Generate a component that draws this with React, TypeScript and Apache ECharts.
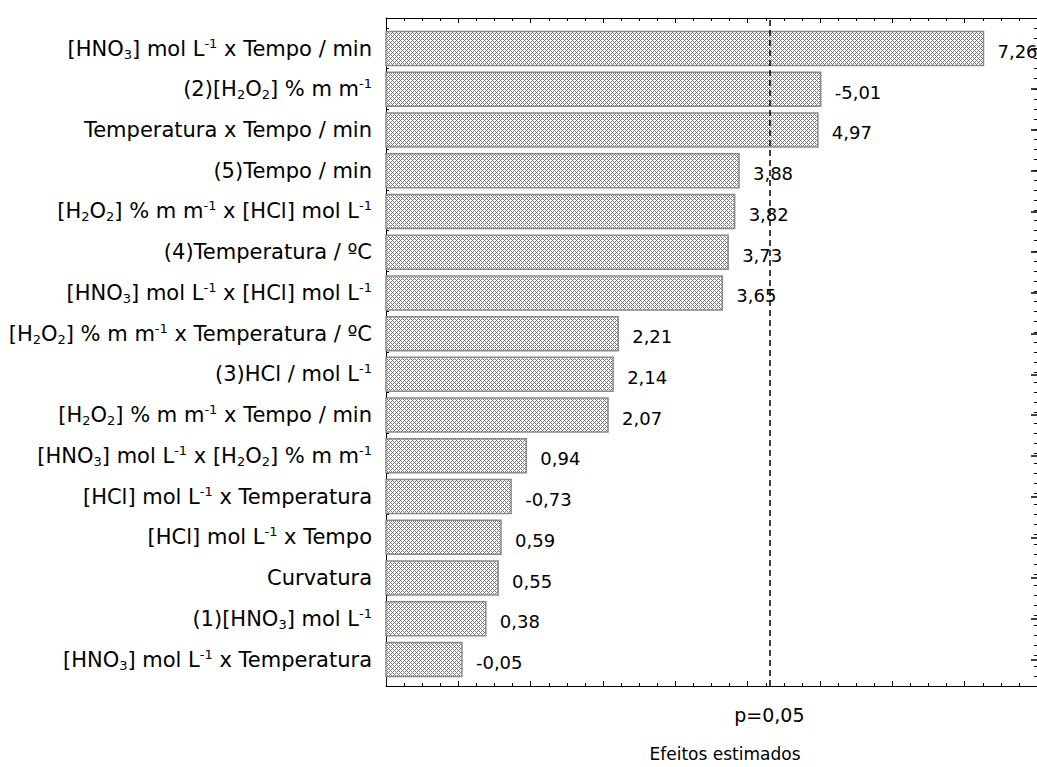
import React, { useEffect, useRef } from "react";
import * as echarts from "echarts";

// ---- data ----
const categories: string[] = [
  "[HNO{sub|3}] mol L{sup|-1} x Tempo / min",
  "(2)[H{sub|2}O{sub|2}] % m m{sup|-1}",
  "Temperatura x Tempo / min",
  "(5)Tempo / min",
  "[H{sub|2}O{sub|2}] % m m{sup|-1} x [HCl] mol L{sup|-1}",
  "(4)Temperatura / ºC",
  "[HNO{sub|3}] mol L{sup|-1} x [HCl] mol L{sup|-1}",
  "[H{sub|2}O{sub|2}] % m m{sup|-1} x Temperatura / ºC",
  "(3)HCl / mol L{sup|-1}",
  "[H{sub|2}O{sub|2}] % m m{sup|-1} x Tempo / min",
  "[HNO{sub|3}] mol L{sup|-1} x [H{sub|2}O{sub|2}] % m m{sup|-1}",
  "[HCl] mol L{sup|-1} x Temperatura",
  "[HCl] mol L{sup|-1} x Tempo",
  "Curvatura",
  "(1)[HNO{sub|3}] mol L{sup|-1}",
  "[HNO{sub|3}] mol L{sup|-1} x Temperatura",
];
const effects: number[] = [
  7.26, -5.01, 4.97, 3.88, 3.82, 3.73, 3.65, 2.21, 2.14, 2.07, 0.94, -0.73, 0.59,
  0.55, 0.38, -0.05,
];
const pLimit = 4.303;
const pLabel = "p=0,05";
const xTitle = "Efeitos estimados";
const xMin = -1;
const xMax = 8;

const FONT = "DejaVu Sans";

function fmt(v: number): string {
  return v.toFixed(2).replace(".", ",");
}

function makeHatch(): HTMLCanvasElement {
  const c = document.createElement("canvas");
  c.width = 4;
  c.height = 4;
  const ctx = c.getContext("2d")!;
  ctx.fillStyle = "#ffffff";
  ctx.fillRect(0, 0, 4, 4);
  ctx.fillStyle = "#7a7a7a";
  for (let y = 0; y < 4; y++) {
    for (let x = 0; x < 4; x++) {
      if ((x + y) % 4 === 0 || (x - y + 4) % 4 === 0) ctx.fillRect(x, y, 1, 1);
    }
  }
  return c;
}

export default function App() {
  const ref = useRef<HTMLDivElement>(null);

  useEffect(() => {
    if (!ref.current) return;
    const chart = echarts.init(ref.current, null, { renderer: "svg" });
    const hatch = makeHatch();
    const pattern: any = {
      image: hatch,
      repeat: "repeat",
      imageWidth: 4,
      imageHeight: 4,
    };

    const frameX = (pos: "top" | "bottom", withName: boolean) => ({
      gridIndex: 0,
      type: "value",
      position: pos,
      min: xMin,
      max: xMax,
      interval: 1,
      axisLine: { show: true, onZero: false, lineStyle: { color: "#000", width: 1 } },
      axisTick: { show: true, inside: true, length: 5, lineStyle: { color: "#000" } },
      minorTick: { show: true, splitNumber: 4, length: 3, lineStyle: { color: "#000" } },
      axisLabel: { show: false },
      splitLine: { show: false },
      minorSplitLine: { show: false },
      ...(withName
        ? {
            name: xTitle,
            nameLocation: "middle",
            nameGap: 59,
            nameTextStyle: {
              color: "#000",
              fontFamily: FONT,
              fontSize: 17,
              padding: [0, 0, 0, 27],
            },
          }
        : {}),
    });

    const frameY = (pos: "left" | "right") => ({
      gridIndex: 0,
      type: "value",
      position: pos,
      min: -0.75,
      max: 15.75,
      interval: 0.25,
      axisLine: { show: true, onZero: false, lineStyle: { color: "#000", width: 1 } },
      axisTick: { show: true, inside: true, length: 3, lineStyle: { color: "#000" } },
      axisLabel: { show: false },
      splitLine: { show: false },
    });

    const majorY = (pos: "left" | "right") => ({
      gridIndex: 1,
      type: "value",
      position: pos,
      inverse: true,
      min: 0,
      max: categories.length - 1,
      interval: 1,
      axisLine: { show: false },
      axisTick: { show: true, inside: true, length: 6, lineStyle: { color: "#000", width: 1.5 } },
      axisLabel: { show: false },
      splitLine: { show: false },
    });

    const option: any = {
      animation: false,
      backgroundColor: "#ffffff",
      grid: [
        { left: 386, top: 18, width: 652.5, height: 672 },
        { left: 386, top: 48.5, width: 652.5, height: 611 },
      ],
      xAxis: [
        frameX("bottom", true),
        frameX("top", false),
        { gridIndex: 1, type: "value", min: xMin, max: xMax, show: false },
      ],
      yAxis: [
        frameY("left"),
        frameY("right"),
        {
          gridIndex: 1,
          type: "category",
          inverse: true,
          boundaryGap: false,
          data: categories,
          axisLine: { show: false },
          axisTick: { show: false },
          axisLabel: {
            interval: 0,
            margin: 14,
            color: "#000",
            fontFamily: FONT,
            fontSize: 21,
            lineHeight: 24,
            rich: {
              sub: {
                fontSize: 13,
                lineHeight: 13,
                verticalAlign: "bottom",
                fontFamily: FONT,
                color: "#000",
              },
              sup: {
                fontSize: 13,
                lineHeight: 13,
                verticalAlign: "top",
                fontFamily: FONT,
                color: "#000",
              },
            },
          },
          splitLine: { show: false },
        },
        majorY("left"),
        majorY("right"),
      ],
      series: [
        {
          type: "custom",
          xAxisIndex: 2,
          yAxisIndex: 2,
          silent: true,
          encode: { x: 0, y: 1 },
          data: effects.map((v, i) => [Math.abs(v), i, v]),
          renderItem: (params: any, api: any) => {
            const absV = api.value(0);
            const idx = api.value(1);
            const raw = api.value(2);
            const start = api.coord([xMin, idx]);
            const end = api.coord([absV, idx]);
            const h = api.size([0, 1])[1] * 0.835;
            return {
              type: "group",
              children: [
                {
                  type: "rect",
                  shape: {
                    x: start[0],
                    y: start[1] - h / 2,
                    width: end[0] - start[0],
                    height: h,
                  },
                  style: { fill: pattern, stroke: "#8a8a8a", lineWidth: 1.5 },
                },
                {
                  type: "text",
                  x: end[0] + 14,
                  y: end[1] + 3,
                  style: {
                    text: fmt(raw),
                    fill: "#000",
                    fontFamily: FONT,
                    fontSize: 18,
                    align: "left",
                    verticalAlign: "middle",
                  },
                },
              ],
            };
          },
        },
        {
          type: "line",
          xAxisIndex: 0,
          yAxisIndex: 0,
          data: [],
          silent: true,
          markLine: {
            silent: true,
            symbol: ["none", "none"],
            animation: false,
            lineStyle: { color: "#000", type: [6, 4], width: 1.5 },
            label: {
              show: true,
              position: "start",
              formatter: pLabel,
              color: "#000",
              fontFamily: FONT,
              fontSize: 19,
              distance: 19,
            },
            emphasis: { disabled: true },
            data: [{ xAxis: pLimit }],
          },
        },
      ],
    };

    chart.setOption(option);
    return () => {
      chart.dispose();
    };
  }, []);

  return (
    <div
      ref={ref}
      style={{
        position: "absolute",
        left: 0,
        top: 0,
        width: 1037,
        height: 767,
        background: "#fff",
      }}
    />
  );
}
